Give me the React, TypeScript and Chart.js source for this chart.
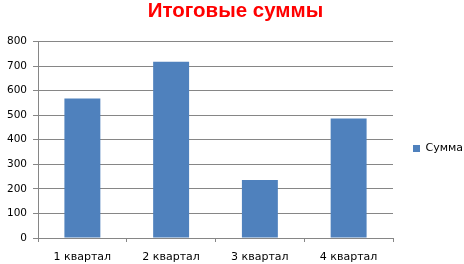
import React, { useEffect, useRef } from "react";
import { Chart, registerables } from "chart.js";

Chart.register(...registerables);

const categories = ["1 квартал", "2 квартал", "3 квартал", "4 квартал"];
const seriesName = "Сумма";
const values = [568, 718, 236, 487];
const titleText = "Итоговые суммы";
const yMin = 0;
const yMax = 800;
const yStep = 100;

const FONT = "'DejaVu Sans', Verdana, sans-serif";
const GRID = "#868686";

export default function App() {
  const ref = useRef<HTMLCanvasElement | null>(null);
  useEffect(() => {
    if (!ref.current) return;
    const chart = new Chart(ref.current, {
      type: "bar",
      data: {
        labels: categories,
        datasets: [
          {
            label: seriesName,
            data: values,
            backgroundColor: "#4F81BD",
            borderWidth: 0,
            barPercentage: 0.405,
            categoryPercentage: 1,
          },
        ],
      },
      options: {
        responsive: false,
        animation: false,
        devicePixelRatio: 1,
        layout: { padding: { left: 7, right: 0, top: 0, bottom: 0 } },
        plugins: {
          title: {
            display: true,
            text: titleText,
            color: "#FF0000",
            font: { family: "'Liberation Sans', Arial, sans-serif", size: 20.5, weight: "bold", lineHeight: 1 },
            padding: { top: 1, bottom: 20 },
          },
          legend: {
            position: "right",
            maxWidth: 71,
            title: {
              display: true,
              text: " ",
              font: { size: 1, lineHeight: 1 },
              padding: { top: 32, bottom: 0 },
            },
            labels: {
              boxWidth: 7,
              boxHeight: 7,
              padding: 20,
              color: "#000",
              font: { family: FONT, size: 11 },
            },
          },
          tooltip: { enabled: false },
        },
        scales: {
          x: {
            grid: { display: true, drawOnChartArea: false, tickLength: 4, color: GRID, offset: true },
            border: { color: GRID },
            ticks: { color: "#000", font: { family: FONT, size: 11 }, padding: 9, maxRotation: 0 },
            afterFit: (s: any) => {
              s.height = 26;
            },
          },
          y: {
            min: yMin,
            max: yMax,
            ticks: { stepSize: yStep, color: "#000", font: { family: FONT, size: 10.5 }, padding: 6 },
            grid: { color: GRID, tickLength: 5 },
            border: { color: GRID },
            afterFit: (s: any) => {
              s.width = 31;
            },
          },
        },
      },
    });
    return () => chart.destroy();
  }, []);
  return (
    <div style={{ position: "absolute", left: 0, top: 0, width: 464, height: 264, background: "#fff" }}>
      <canvas ref={ref} width={464} height={264} style={{ width: 464, height: 264 }} />
    </div>
  );
}
